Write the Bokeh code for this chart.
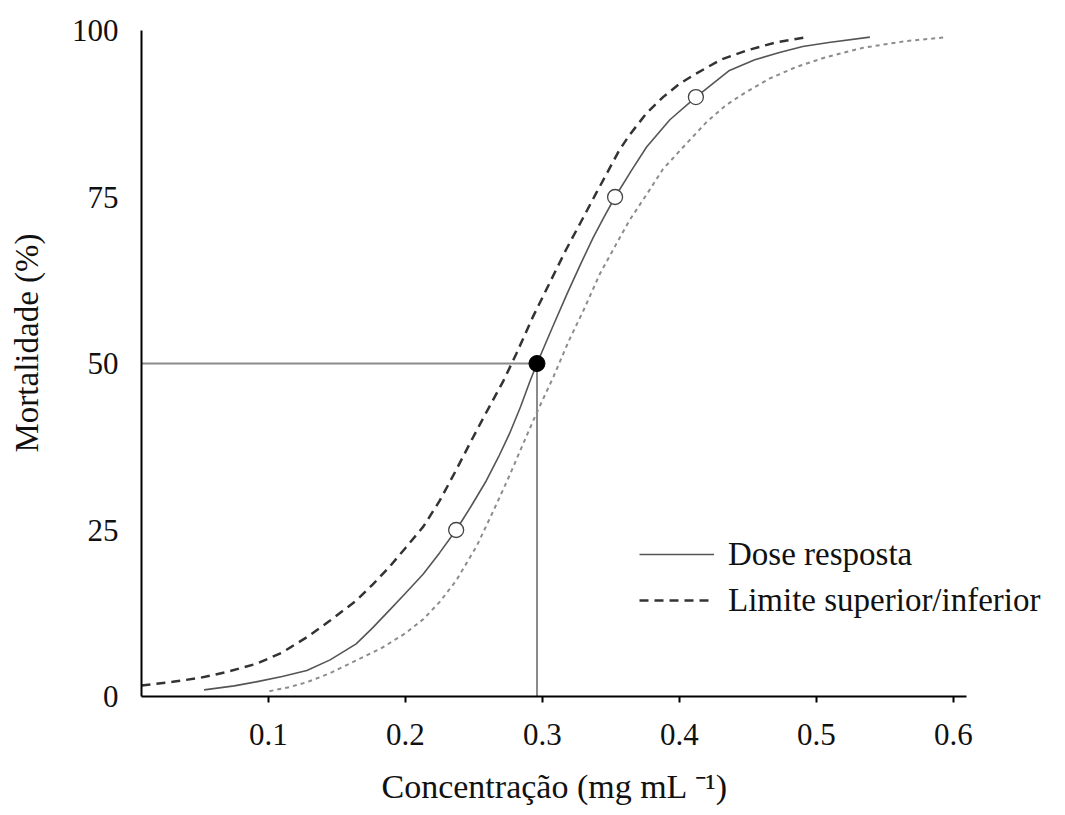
from bokeh.plotting import figure
from bokeh.models import Range1d, FixedTicker, Legend, LegendItem, Title, LinearAxis
from bokeh.embed import file_html
from bokeh.resources import INLINE

# ---- data ----
dose_x = [0.053, 0.075, 0.091, 0.110, 0.128, 0.145, 0.164, 0.176, 0.188, 0.200,
          0.213, 0.225, 0.237, 0.248, 0.259, 0.268, 0.276, 0.284, 0.291, 0.296,
          0.307, 0.318, 0.328, 0.337, 0.345, 0.353, 0.365, 0.376, 0.393, 0.412,
          0.4365, 0.455, 0.473, 0.490, 0.509, 0.539]
dose_y = [1.0, 1.6, 2.2, 3.0, 3.9, 5.5, 7.9, 10.3, 12.9, 15.5,
          18.4, 21.6, 25.0, 28.6, 32.4, 36.0, 39.5, 43.5, 47.4, 50.0,
          55.3, 60.5, 65.0, 68.9, 72.0, 75.0, 79.0, 82.5, 86.6, 90.0,
          94.0, 95.6, 96.7, 97.6, 98.2, 99.0]

upper_x = [0.0073, 0.03, 0.05, 0.07, 0.091, 0.110, 0.128, 0.145, 0.164, 0.176,
           0.188, 0.200, 0.213, 0.225, 0.237, 0.247, 0.257, 0.2715, 0.281, 0.293,
           0.305, 0.317, 0.33, 0.339, 0.356, 0.3635, 0.376, 0.388, 0.400, 0.412,
           0.43, 0.449, 0.47, 0.493]
upper_y = [1.65, 2.2, 2.8, 3.7, 4.9, 6.6, 8.9, 11.4, 14.4, 16.8,
           19.4, 22.3, 25.5, 29.4, 34.0, 38.0, 41.9, 47.4, 51.5, 57.0,
           62.0, 67.0, 72.0, 75.5, 82.0, 84.3, 87.6, 90.0, 92.0, 93.5,
           95.6, 97.0, 98.2, 99.0]

lower_x = [0.1007, 0.115, 0.128, 0.145, 0.164, 0.182, 0.200, 0.213, 0.225, 0.237,
           0.252, 0.264, 0.276, 0.286, 0.296, 0.308, 0.319, 0.330, 0.342, 0.354,
           0.3635, 0.378, 0.388, 0.405, 0.42, 0.434, 0.449, 0.466, 0.485, 0.507,
           0.534, 0.565, 0.595]
lower_y = [0.8, 1.4, 2.15, 3.5, 5.4, 7.2, 9.5, 11.6, 14.2, 17.4,
           22.6, 27.8, 33.2, 38.0, 42.7, 48.0, 53.3, 58.0, 63.5, 68.0,
           71.5, 76.0, 79.2, 83.0, 86.3, 88.8, 90.8, 92.8, 94.5, 96.0,
           97.4, 98.4, 99.0]

obs_x = [0.237, 0.353, 0.412]
obs_y = [25, 75, 90]

lc50_x = 0.296
lc50_y = 50

x_ticks = [0.1, 0.2, 0.3, 0.4, 0.5, 0.6]
y_ticks = [0, 25, 50, 75, 100]
x_start, x_axis_end, x_end = 0.0073, 0.6095, 0.6745
y_start, y_end = 0, 100

FONT = "Liberation Serif"

p = figure(width=1055, height=815, output_backend="svg", toolbar_location=None,
           x_range=Range1d(x_start, x_end), y_range=Range1d(y_start, y_end),
           min_border_left=141, min_border_right=0, min_border_top=30,
           min_border_bottom=119)
p.outline_line_color = None
p.xgrid.visible = False
p.ygrid.visible = False
p.background_fill_color = "white"

# reference lines for LC50
p.segment(x0=[x_start], y0=[lc50_y], x1=[lc50_x], y1=[lc50_y],
          line_color="#8a8a8a", line_width=2)
p.segment(x0=[lc50_x], y0=[y_start], x1=[lc50_x], y1=[lc50_y],
          line_color="#8a8a8a", line_width=2)

r_up = p.line(upper_x, upper_y, line_color="#333333", line_width=2.5,
              line_dash="9 6", line_join="round")
r_low = p.line(lower_x, lower_y, line_color="#8c8c8c", line_width=2,
               line_dash="4 4", line_join="round")
r_dose = p.line(dose_x, dose_y, line_color="#555555", line_width=1.6,
                line_join="round")

p.scatter(obs_x, obs_y, size=15, marker="circle", fill_color="white",
          line_color="#444444", line_width=1.3)
p.scatter([lc50_x], [lc50_y], size=16, marker="circle", fill_color="black",
          line_color="black")

# axes
for ax in (p.xaxis[0], p.yaxis[0]):
    ax.axis_line_color = "black"
    ax.axis_line_width = 2
    ax.minor_tick_line_color = None
    ax.major_label_text_font = FONT
    ax.major_label_text_font_size = "31px"
    ax.major_label_text_color = "#111111"

xa = p.xaxis[0]
xa.bounds = (x_start, x_axis_end)
xa.ticker = FixedTicker(ticks=x_ticks)
xa.major_tick_in = 0
xa.major_tick_out = 6
xa.major_tick_line_width = 2
xa.major_tick_line_color = "black"
xa.major_label_standoff = 21

ya = p.yaxis[0]
ya.ticker = FixedTicker(ticks=y_ticks)
ya.major_tick_in = 0
ya.major_tick_out = 0
ya.major_tick_line_color = None
ya.major_label_standoff = 23


def spacer(gap, at):
    # a blank axis (one white tick, no label, no line) reserving a gap
    return LinearAxis(ticker=FixedTicker(ticks=[at]), axis_line_color=None,
                      major_tick_line_color="white", minor_tick_line_color=None,
                      major_tick_in=0, major_tick_out=gap,
                      major_label_overrides={at: ""},
                      major_label_text_font_size="1px",
                      major_label_text_color=None,
                      major_label_standoff=0)


p.add_layout(spacer(18, lc50_x), "below")
p.add_layout(spacer(24, lc50_y), "left")

# axis titles, placed along the drawn axes
x_title = Title(text="Concentração (mg mL ⁻¹)", align="left", offset=240,
                text_font=FONT, text_font_size="34px", text_font_style="normal",
                text_color="#111111", standoff=0)
p.add_layout(x_title, "below")

y_title = Title(text="Mortalidade (%)", align="left", offset=244,
                text_font=FONT, text_font_size="33px", text_font_style="normal",
                text_color="#111111", standoff=0)
p.add_layout(y_title, "left")

legend = Legend(items=[LegendItem(label="Dose resposta", renderers=[r_dose]),
                       LegendItem(label="Limite superior/inferior", renderers=[r_up])],
                location=(498, 75), glyph_width=75, glyph_height=42,
                label_height=42, spacing=4, padding=0, margin=0,
                border_line_color=None, background_fill_alpha=0,
                label_standoff=14, label_text_font=FONT,
                label_text_font_size="33px", label_text_color="#111111")
p.add_layout(legend)

open("out.html", "w").write(file_html(p, INLINE))
